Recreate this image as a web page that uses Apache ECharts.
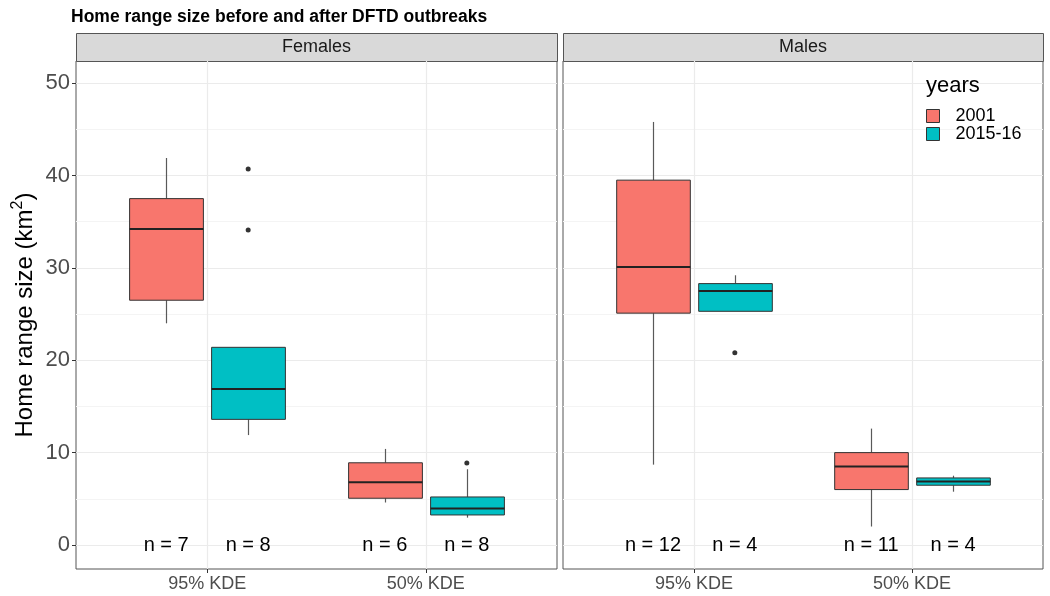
<!DOCTYPE html>
<html><head><meta charset="utf-8">
<script src="https://cdn.jsdelivr.net/npm/echarts@6/dist/echarts.min.js"></script>
<style>html,body{margin:0;padding:0;background:#fff}#c{width:1050px;height:596px}</style>
</head><body><div id="c"></div>
<script>
// ---------------- data ----------------
const panels = ['Females', 'Males'];
const categories = ['95% KDE', '50% KDE'];
const years = ['2001', '2015-16'];
const yTicks = [0, 10, 20, 30, 40, 50];
const yMinorTicks = [5, 15, 25, 35, 45];
// per category: [lower whisker, Q1, median, Q3, upper whisker]
const females2001 = [[24.0, 26.5, 34.2, 37.5, 41.9], [4.6, 5.06, 6.8, 8.9, 10.4]];
const females2015 = [[11.9, 13.6, 16.9, 21.4, 21.4], [2.96, 3.25, 3.94, 5.2, 8.2]];
const males2001 = [[8.7, 25.1, 30.1, 39.5, 45.8], [2.0, 6.0, 8.5, 10.0, 12.6]];
const males2015 = [[25.3, 25.3, 27.5, 28.3, 29.2], [5.77, 6.47, 6.86, 7.26, 7.5]];
// outliers: [categoryIndex, value]
const femalesOut2001 = [];
const femalesOut2015 = [[0, 34.1], [0, 40.7], [1, 8.88]];
const malesOut2001 = [];
const malesOut2015 = [[0, 20.8]];
// sample sizes per category: [2001, 2015-16]
const femalesN = [[7, 8], [6, 8]];
const malesN = [[12, 4], [11, 4]];

// ---------------- style / layout ----------------
const colors = ['#F8766D', '#00BFC4'];
const FONT = 'Liberation Sans, Arial, sans-serif';
const DODGE = [-0.1875, 0.1875];
const BOX_W = 0.3375;
const grids = [
  {left: 76, top: 61, width: 481, height: 508},
  {left: 563, top: 61, width: 480, height: 508}
];
const Y_MIN = -2.6, Y_MAX = 52.4;

function renderBox(params, api) {
  const x = api.value(0);
  const lo = api.value(1), q1 = api.value(2), med = api.value(3), q3 = api.value(4), hi = api.value(5);
  const c = api.coord([x, med]);
  const halfW = api.size([BOX_W, 0])[0] / 2;
  const pLo = api.coord([x, lo])[1], pQ1 = api.coord([x, q1])[1];
  const pQ3 = api.coord([x, q3])[1], pHi = api.coord([x, hi])[1];
  const cx = Math.round(c[0]) + 0.5;
  return {type: 'group', children: [
    {type: 'line', shape: {x1: cx, y1: pHi, x2: cx, y2: pQ3}, style: {stroke: '#595959', lineWidth: 1.2}},
    {type: 'line', shape: {x1: cx, y1: pQ1, x2: cx, y2: pLo}, style: {stroke: '#595959', lineWidth: 1.2}},
    {type: 'rect', shape: {x: cx - halfW, y: pQ3, width: 2 * halfW, height: pQ1 - pQ3},
      style: {fill: api.visual('color'), stroke: '#333', lineWidth: 1}},
    {type: 'line', shape: {x1: cx - halfW, y1: c[1], x2: cx + halfW, y2: c[1]}, style: {stroke: '#222', lineWidth: 2}}
  ]};
}
function renderN(params, api) {
  const p = api.coord([api.value(0), api.value(1)]);
  return {type: 'text', x: p[0], y: p[1], style: {text: 'n = ' + api.value(2), fill: '#000',
    font: '20px ' + FONT, align: 'center', verticalAlign: 'middle'}};
}

const boxSets = [[females2001, females2015], [males2001, males2015]];
const outSets = [[femalesOut2001, femalesOut2015], [malesOut2001, malesOut2015]];
const nSets = [femalesN, malesN];

const series = [];
const xAxis = [], yAxis = [];
panels.forEach((panel, g) => {
  xAxis.push({
    type: 'value', gridIndex: g, min: 0.4, max: 2.6, position: 'bottom',
    axisLine: {show: false, onZero: false},
    axisTick: {show: true, length: 4, lineStyle: {color: '#333'}, customValues: [1, 2]},
    axisLabel: {customValues: [1, 2], formatter: v => categories[Math.round(v) - 1] || '',
      fontSize: 18, color: '#4d4d4d', fontFamily: FONT, margin: 6},
    splitLine: {show: true, lineStyle: {color: '#ebebeb', width: 1.2}}
  });
  yAxis.push({
    type: 'value', gridIndex: g, min: Y_MIN, max: Y_MAX, position: 'left',
    axisLine: {show: false, onZero: false},
    axisTick: {show: g === 0, length: 4, lineStyle: {color: '#333'}, customValues: yTicks},
    axisLabel: {show: g === 0, customValues: yTicks, fontSize: 22, color: '#4d4d4d', fontFamily: FONT, margin: 6},
    splitLine: {show: true, lineStyle: {color: '#ebebeb', width: 1.2}},
    name: g === 0 ? '{a|Home range size (km}{s|2}{a|)}' : '',
    nameLocation: 'middle', nameGap: 36,
    nameTextStyle: {rich: {
      a: {fontSize: 24, color: '#000', fontFamily: FONT, lineHeight: 30},
      s: {fontSize: 16, color: '#000', fontFamily: FONT, verticalAlign: 'top', lineHeight: 30, padding: [0, 0, 12, 0]}
    }}
  });
  yAxis.push({
    type: 'value', gridIndex: g, min: Y_MIN, max: Y_MAX, position: 'left',
    axisLine: {show: false, onZero: false}, axisTick: {show: false, customValues: yMinorTicks},
    axisLabel: {show: false, customValues: yMinorTicks},
    splitLine: {show: true, lineStyle: {color: '#f4f4f4', width: 1}}
  });
  years.forEach((yr, s) => {
    series.push({
      type: 'custom', name: yr, xAxisIndex: g, yAxisIndex: g * 2,
      itemStyle: {color: colors[s]},
      renderItem: renderBox,
      encode: {x: 0, y: [1, 2, 3, 4, 5]},
      data: boxSets[g][s].map((b, i) => [i + 1 + DODGE[s]].concat(b)),
      z: 3
    });
    series.push({
      type: 'scatter', name: yr + ' outliers', xAxisIndex: g, yAxisIndex: g * 2,
      symbolSize: 5, itemStyle: {color: '#000'},
      data: outSets[g][s].map(o => [o[0] + 1 + DODGE[s], o[1]]),
      z: 4
    });
    series.push({
      type: 'custom', name: 'n ' + yr, xAxisIndex: g, yAxisIndex: g * 2,
      renderItem: renderN,
      encode: {x: 0, y: 1},
      data: nSets[g].map((n, i) => [i + 1 + DODGE[s], 0, n[s]]),
      z: 4
    });
  });
});

const graphic = [];
panels.forEach((panel, g) => {
  graphic.push({type: 'rect', left: grids[g].left, top: 33,
    shape: {width: grids[g].width, height: 28},
    style: {fill: '#d9d9d9', stroke: '#555', lineWidth: 1}});
  graphic.push({type: 'text', x: grids[g].left + grids[g].width / 2, y: 47,
    style: {text: panel, font: '18px ' + FONT, fill: '#1a1a1a', align: 'center', verticalAlign: 'middle'}});
});

const chart = echarts.init(document.getElementById('c'), null, {renderer: 'canvas'});
chart.setOption({
  animation: false,
  backgroundColor: '#fff',
  title: [
    {text: 'Home range size before and after DFTD outbreaks', left: 66, top: 3,
      textStyle: {fontSize: 17.5, fontWeight: 'bold', color: '#000', fontFamily: FONT}},
    {text: 'years', left: 921, top: 70,
      textStyle: {fontSize: 22, fontWeight: 'normal', color: '#000', fontFamily: FONT}}
  ],
  legend: {
    data: years, orient: 'vertical', left: 926, top: 107, padding: 0,
    itemWidth: 13, itemHeight: 13, itemGap: 0, icon: 'rect',
    itemStyle: {borderColor: '#333', borderWidth: 1},
    textStyle: {fontSize: 18, lineHeight: 18, color: '#000', fontFamily: FONT, padding: [0, 0, 0, 11]}
  },
  grid: grids.map(gr => Object.assign({show: true, borderColor: '#555', borderWidth: 1, backgroundColor: '#fff'}, gr)),
  xAxis, yAxis, series, graphic
});
</script></body></html>
